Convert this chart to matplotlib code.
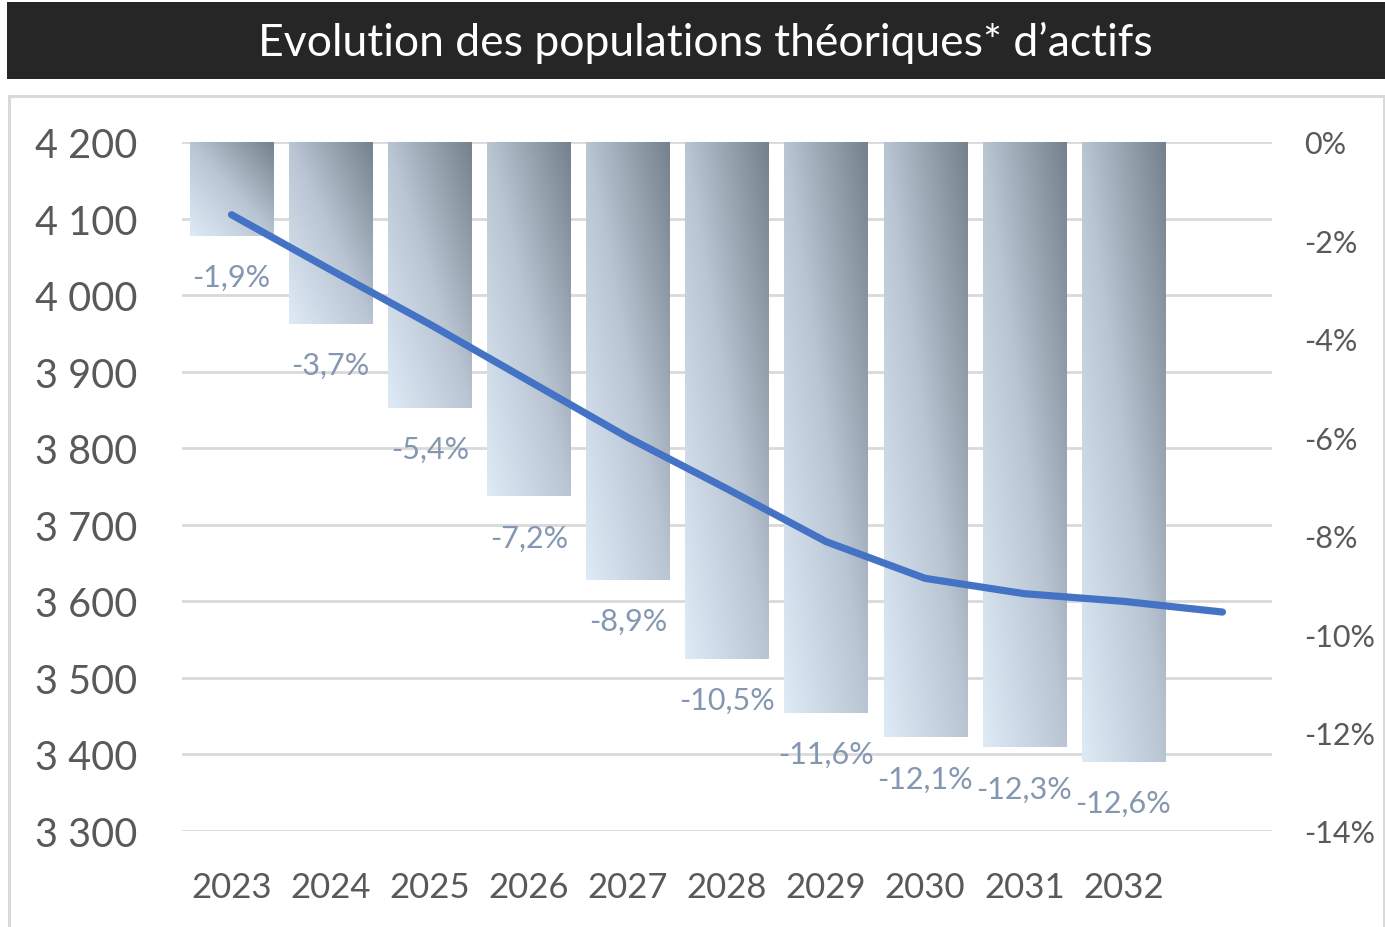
import numpy as np
import matplotlib
matplotlib.use("Agg")
import matplotlib.pyplot as plt
from matplotlib.patches import Rectangle
from matplotlib.colors import LinearSegmentedColormap

plt.rcParams['font.family'] = ['Lato', 'DejaVu Sans']

years = ['2023', '2024', '2025', '2026', '2027', '2028', '2029', '2030', '2031', '2032']
pct_change = [-1.9, -3.7, -5.4, -7.2, -8.9, -10.5, -11.6, -12.1, -12.3, -12.6]
population = [4105, 4033, 3962, 3888, 3814, 3747, 3678, 3630, 3610, 3600, 3586]
pop_ticks = [3300, 3400, 3500, 3600, 3700, 3800, 3900, 4000, 4100, 4200]
pct_ticks = [0, -2, -4, -6, -8, -10, -12, -14]

W, H = 1385, 928
fig = plt.figure(figsize=(W / 100, H / 100), dpi=100)
fig.patch.set_facecolor('white')

# title bar
fig.add_artist(Rectangle((7 / W, 1 - 80 / H), 1 - 7 / W, 77 / H, transform=fig.transFigure,
                         facecolor='#262626', edgecolor='none', zorder=0))
fig.text(705 / W, 1 - 43 / H, 'Evolution des populations théoriques* d\u2019actifs',
         color='white', fontsize=32, ha='center', va='center')
# panel border
fig.add_artist(Rectangle((8.5 / W, -0.05), 1 - 10 / W, 1.05 - 96.5 / H, transform=fig.transFigure,
                         facecolor='none', edgecolor='#d9d9d9', linewidth=2.2, zorder=0))

left, right = 182 / W, 1272 / W
bottom, top = 1 - 832 / H, 1 - 143 / H
ax = fig.add_axes([left, bottom, right - left, top - bottom])
ax.set_facecolor('none')
ncat = len(population)
x_all = np.arange(ncat)
ax.set_xlim(-0.5, ncat - 0.5)
ax.set_ylim(pop_ticks[0], pop_ticks[-1])
ax.set_yticks(pop_ticks)
ax.set_yticklabels([f'{v // 1000} {v % 1000:03d}' for v in pop_ticks])
ax.grid(axis='y', color='#d9d9d9', linewidth=2.0)
ax.set_axisbelow(True)
ax.tick_params(axis='y', length=0, pad=32, labelsize=28.5, labelcolor='#595959')
ax.set_xticks(np.arange(len(years)))
ax.set_xticklabels(years)
ax.tick_params(axis='x', length=0, pad=29, labelsize=25, labelcolor='#595959')
for s in ax.spines.values():
    s.set_visible(False)

# bars on percent axis
ax2 = ax.twinx()
ax2.set_ylim(pct_ticks[-1], pct_ticks[0])
ax2.set_yticks(pct_ticks)
ax2.set_yticklabels([f'{v}%' for v in pct_ticks])
ax2.tick_params(axis='y', length=0, pad=23, labelsize=22, labelcolor='#595959')
for s in ax2.spines.values():
    s.set_visible(False)

cmap = LinearSegmentedColormap.from_list('g', ['#dfeaf7', '#b9c5d2', '#75818c'])
bw = 0.84
bars = ax2.bar(np.arange(len(years)), pct_change, width=bw, color='none', edgecolor='none')
uu, vv = np.meshgrid(np.linspace(0, 1, 60), np.linspace(0, 1, 120))
grad = (uu + vv) / 2.0
for b, val in zip(bars, pct_change):
    x0 = b.get_x()
    im = ax2.imshow(grad, cmap=cmap, vmin=0, vmax=1, origin='lower', aspect='auto',
                    extent=[x0, x0 + bw, val, 0], interpolation='bilinear', zorder=2)
    im.set_clip_path(b)
    ax2.annotate(f'{val:.1f}%'.replace('.', ','), xy=(b.get_x() + bw / 2, val),
                 xytext=(0, -29.5), textcoords='offset points', ha='center', va='center',
                 fontsize=22, color='#8497b0', zorder=3)
ax2.set_xlim(-0.5, ncat - 0.5)

# line on population scale
ax3 = ax.twinx()
ax3.set_ylim(pop_ticks[0], pop_ticks[-1])
ax3.set_xlim(-0.5, ncat - 0.5)
ax3.plot(x_all, population, color='#4472c4', linewidth=5.2, solid_capstyle='round',
         solid_joinstyle='round', zorder=5)
ax3.set_yticks([])
for s in ax3.spines.values():
    s.set_visible(False)

fig.savefig('out.png', dpi=100, facecolor='white')
